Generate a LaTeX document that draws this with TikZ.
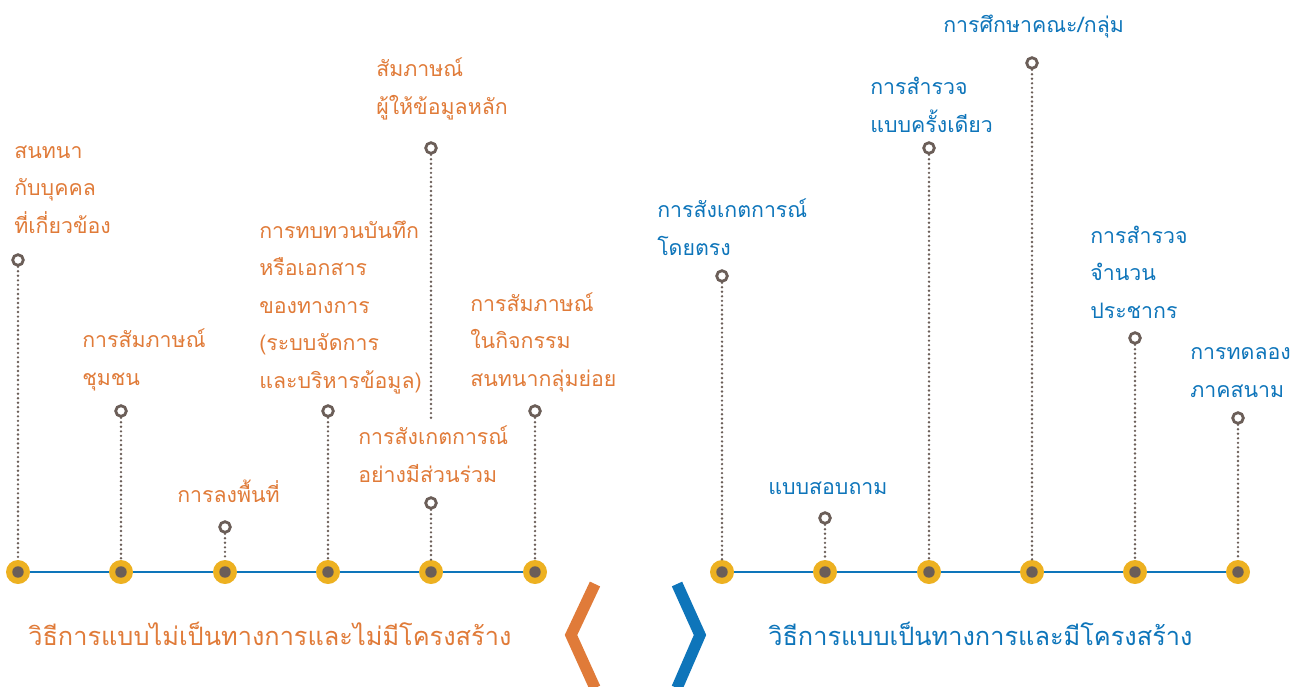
\documentclass[tikz,border=0pt]{standalone}
\usepackage{fontspec}
\newfontfamily\thaifont[Script=Thai]{Loma}
\definecolor{orng}{HTML}{E07B39}
\definecolor{blu}{HTML}{0E75BA}
\definecolor{gry}{HTML}{6B5E58}
\definecolor{ylw}{HTML}{EDB121}
\begin{document}
\begin{tikzpicture}[x=0.75pt,y=-0.75pt,
  basedot/.style={circle,fill=ylw,minimum size=18pt,inner sep=0pt,
    path picture={\fill[gry] (path picture bounding box.center) circle (4.3pt);}},
  opendot/.style={circle,draw=gry,line width=2.1pt,minimum size=8pt,inner sep=0pt,fill=white},
  stem/.style={gry,line width=2pt,line cap=round,dash pattern=on 0pt off 3.4pt},
  lbl/.style={anchor=base west,align=left,inner sep=0pt,
    font=\thaifont\fontsize{16}{28.1}\selectfont},
  olbl/.style={lbl,text=orng},
  blbl/.style={lbl,text=blu},
  ttl/.style={anchor=base west,inner sep=0pt,font=\thaifont\fontsize{19}{24}\selectfont},
  chev/.style={line width=8.5pt,line join=miter,miter limit=10}
]
\useasboundingbox (0,0) rectangle (1306,686);
% base lines
\draw[blu,line width=1.5pt] (18,572) -- (535,572);
\draw[blu,line width=1.5pt] (722,572) -- (1238,572);
% base dots
\foreach \n/\x in {b1/18,b2/121,b3/225,b4/328,b5/431,b6/535,b7/722,b8/825,b9/929,b10/1032,b11/1135,b12/1238}
  \node[basedot] (\n) at (\x,572) {};
% top circles
\node[opendot] (t1) at (18,260) {};
\node[opendot] (t2) at (121,411) {};
\node[opendot] (t3) at (225,527) {};
\node[opendot] (t4) at (328,411) {};
\node[opendot] (t5) at (431,148) {};
\node[opendot] (t5b) at (431,503) {};
\node[opendot] (t6) at (535,411) {};
\node[opendot] (t7) at (722,276) {};
\node[opendot] (t8) at (825,518) {};
\node[opendot] (t9) at (929,148) {};
\node[opendot] (t10) at (1032,63) {};
\node[opendot] (t11) at (1135,338) {};
\node[opendot] (t12) at (1238,418) {};
\coordinate (s5end) at (431,420);
% stems
\foreach \a/\b in {t1/b1,t2/b2,t3/b3,t4/b4,t5b/b5,t6/b6,t7/b7,t8/b8,t9/b9,t10/b10,t11/b11,t12/b12}
  \draw[stem] (\a) -- (\b);
\draw[stem] (t5) -- (s5end);
% left labels (anchored at the baseline of the last line)
\node[olbl] (l1) at (14,233) {สนทนา\\กับบุคคล\\ที่เกี่ยวข้อง};
\node[olbl] (l2) at (82,385) {การสัมภาษณ์\\ชุมชน};
\node[olbl] (l3) at (177,502) {การลงพื้นที่};
\node[olbl] (l4) at (259,388) {การทบทวนบันทึก\\หรือเอกสาร\\ของทางการ\\(ระบบจัดการ\\และบริหารข้อมูล)};
\node[olbl] (l5) at (376,114) {สัมภาษณ์\\ผู้ให้ข้อมูลหลัก};
\node[olbl] (l6) at (358,482) {การสังเกตการณ์\\อย่างมีส่วนร่วม};
\node[olbl] (l7) at (470,386) {การสัมภาษณ์\\ในกิจกรรม\\สนทนากลุ่มย่อย};
% right labels
\node[blbl] (r1) at (657,255) {การสังเกตการณ์\\โดยตรง};
\node[blbl] (r2) at (768,494) {แบบสอบถาม};
\node[blbl] (r3) at (870,132) {การสำรวจ\\แบบครั้งเดียว};
\node[blbl] (r4) at (943,32) {การศึกษาคณะ/กลุ่ม};
\node[blbl] (r5) at (1090,318) {การสำรวจ\\จำนวน\\ประชากร};
\node[blbl] (r6) at (1190,397) {การทดลอง\\ภาคสนาม};
% titles
\node[ttl,text=orng] (tl) at (28,645) {วิธีการแบบไม่เป็นทางการและไม่มีโครงสร้าง};
\node[ttl,text=blu] (tr) at (768,645) {วิธีการแบบเป็นทางการและมีโครงสร้าง};
% chevrons
\draw[chev,orng] (595,584) -- (571,635) -- (595,688);
\draw[chev,blu] (677,584) -- (700,635) -- (677,688);
\end{tikzpicture}
\end{document}
